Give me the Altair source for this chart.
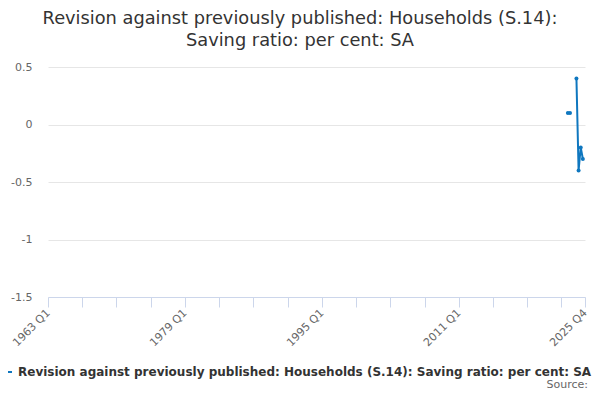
import altair as alt
import pandas as pd

# ---- data ----
quarters = ["2023 Q4", "2024 Q1", "2024 Q4", "2025 Q1", "2025 Q2", "2025 Q3"]
values = [0.1, 0.1, 0.4, -0.4, -0.2, -0.3]
series_name = "Revision against previously published: Households (S.14): Saving ratio: per cent: SA"
title_lines = ["Revision against previously published: Households (S.14):",
               "Saving ratio: per cent: SA"]
first_quarter = "1963 Q1"
last_quarter = "2025 Q4"
x_label_quarters = ["1963 Q1", "1979 Q1", "1995 Q1", "2011 Q1", "2025 Q4"]
y_ticks = [-1.5, -1, -0.5, 0, 0.5]
source_text = "Source:"


def q_index(q):
    y, qq = q.split(" Q")
    return (int(y) - 1963) * 4 + int(qq) - 1


idx = [q_index(q) for q in quarters]
seg = []
s = 0
for i, v in enumerate(idx):
    if i > 0 and v - idx[i - 1] > 1:
        s += 1
    seg.append(s)

df = pd.DataFrame({"idx": idx, "value": values, "quarter": quarters,
                   "seg": seg, "series": series_name})

x_min = q_index(first_quarter)
x_max = q_index(last_quarter)
tick_vals = list(range(x_min, x_max, 16)) + [x_max]
label_idx = [q_index(q) for q in x_label_quarters]
label_map = "{" + ",".join(f"'{i}': '{q}'" for i, q in zip(label_idx, x_label_quarters)) + "}"
label_expr = f"({label_map})[''+datum.value] || ''"

BLUE = "#0f77bf"
FONT = "DejaVu Sans"

x = alt.X("idx:Q", scale=alt.Scale(domain=[x_min, x_max], nice=False, zero=False),
          axis=alt.Axis(values=tick_vals, labelExpr=label_expr, title=None, grid=False,
                        domainColor="#ccd6eb", tickColor="#ccd6eb", tickSize=10,
                        labelAngle=-45, labelAlign="right", labelBaseline="middle",
                        labelPadding=4, labelColor="#666666", labelFontSize=11,
                        labelFont=FONT, labelOverlap=False, labelFlush=False))
y = alt.Y("value:Q", scale=alt.Scale(domain=[-1.5, 0.5], nice=False, zero=False),
          axis=alt.Axis(values=y_ticks, labelExpr="'' + datum.value", title=None,
                        domain=False, ticks=False, gridColor="#e6e6e6",
                        labelColor="#666666", labelFontSize=11, labelFont=FONT,
                        labelPadding=16))

color = alt.Color("series:N", scale=alt.Scale(range=[BLUE]),
                  legend=alt.Legend(title=None, orient="none", legendX=-46, legendY=299,
                                    symbolType="stroke", symbolStrokeWidth=2,
                                    symbolSize=64, labelFont=FONT, labelFontSize=12,
                                    labelFontWeight="bold", labelColor="#333333",
                                    labelLimit=2000, labelOffset=4, padding=0))

base = alt.Chart(df)
line = base.mark_line(strokeWidth=2).encode(x=x, y=y, color=color, detail="seg:N")
pts = base.mark_point(filled=True, size=16, opacity=1).encode(x=x, y=y, color=color)

t1 = alt.Chart(pd.DataFrame({"t": [title_lines[0]]})).mark_text(
    font=FONT, fontSize=17.8, color="#333333", align="center", baseline="middle"
).encode(x=alt.value(252), y=alt.value(-48), text="t:N")
t2 = alt.Chart(pd.DataFrame({"t": [title_lines[1]]})).mark_text(
    font=FONT, fontSize=17.8, color="#333333", align="center", baseline="middle"
).encode(x=alt.value(252), y=alt.value(-26), text="t:N")
src = alt.Chart(pd.DataFrame({"t": [source_text]})).mark_text(
    font=FONT, fontSize=11, color="#666666", align="right", baseline="middle"
).encode(x=alt.value(540), y=alt.value(318), text="t:N")

chart = alt.layer(line, pts, t1, t2, src).properties(
    width=537, height=230,
    autosize=alt.AutoSizeParams(type="none"),
    padding={"left": 40, "top": 59, "right": 7, "bottom": 95},
).configure_view(stroke=None)

chart.save("out.html", embed_options={"renderer": "svg", "actions": False})
